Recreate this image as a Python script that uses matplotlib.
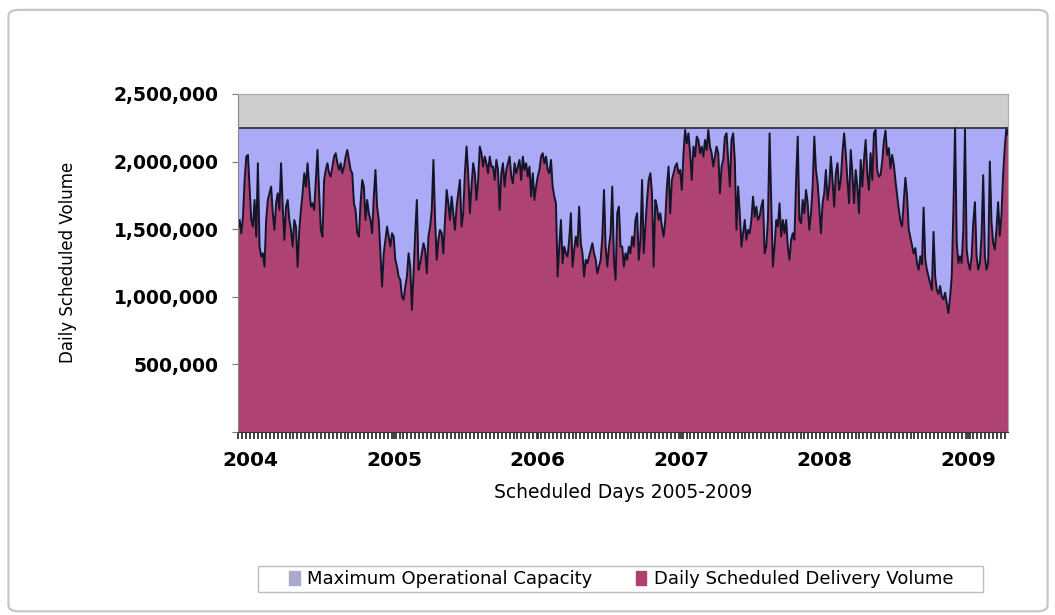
import numpy as np
import pandas as pd
import matplotlib
matplotlib.use("Agg")
import matplotlib.pyplot as plt
import matplotlib.dates as mdates
from matplotlib.patches import Patch, Rectangle, FancyBboxPatch
from matplotlib.ticker import FuncFormatter, MultipleLocator

# daily scheduled delivery volume (thousands)
seg_2004 = [1495, 1568, 1470, 1593, 1864, 2037, 2049, 1815, 1568, 1519,
            1716, 1445, 1988, 1371, 1297, 1322, 1223, 1568, 1716, 1766,
            1815, 1618, 1495, 1692, 1766, 1642, 1988, 1667, 1421, 1667,
            1716, 1568, 1495, 1371, 1568, 1519, 1223, 1495, 1642, 1766,
            1914, 1815, 1988, 1815, 1667, 1692, 1642, 1864, 2086, 1766,
            1495, 1445, 1864, 1938, 1988, 1914, 1889, 1963, 2037, 2062,
            1988, 1938, 1988, 1914, 1963, 2037, 2086, 2012, 1938, 1914,
            1692, 1642, 1470, 1445, 1692, 1864, 1815]
seg_2005 = [1568, 1716, 1618, 1568, 1470, 1741, 1938, 1667, 1568, 1322,
            1076, 1322, 1421, 1519, 1445, 1371, 1470, 1445, 1273, 1223,
            1150, 1125, 1002, 977, 1076, 1150, 1322, 1223, 903, 1174,
            1470, 1716, 1199, 1248, 1322, 1396, 1347, 1174, 1445, 1519,
            1642, 2012, 1568, 1273, 1421, 1495, 1470, 1322, 1568, 1790,
            1692, 1568, 1741, 1618, 1495, 1667, 1766, 1864, 1519, 1618,
            1914, 2111, 1914, 1618, 1815, 1988, 1914, 1716, 1864, 2111,
            2062, 1963, 2037, 1988, 1914, 2037, 1963]
seg_2006 = [1963, 1864, 2012, 1938, 1642, 1914, 1988, 1815, 1938, 1988,
            2037, 1889, 1840, 1988, 1914, 1963, 2012, 1864, 2037, 1938,
            1988, 1889, 1963, 1741, 1914, 1716, 1815, 1889, 1938, 2037,
            2062, 1988, 2037, 1938, 1914, 2012, 1815, 1741, 1692, 1150,
            1371, 1568, 1248, 1371, 1322, 1297, 1421, 1618, 1223, 1347,
            1445, 1371, 1667, 1396, 1322, 1150, 1273, 1248, 1297, 1347,
            1396, 1322, 1273, 1174, 1223, 1273, 1445, 1790, 1371, 1223,
            1371, 1470, 1815, 1273, 1125, 1618, 1667, 1371]
seg_2007 = [1371, 1223, 1322, 1273, 1371, 1322, 1445, 1371, 1568, 1618,
            1273, 1421, 1864, 1322, 1519, 1716, 1864, 1914, 1766, 1223,
            1716, 1667, 1568, 1618, 1519, 1445, 1568, 1815, 1963, 1618,
            1864, 1914, 1963, 1988, 1914, 1938, 1790, 2062, 2234, 2135,
            2209, 2062, 1864, 2111, 2037, 2185, 2160, 2062, 2111, 2037,
            2160, 2086, 2234, 2111, 2062, 1963, 2037, 2111, 2062, 1766,
            1963, 2012, 2185, 2209, 2012, 1815, 2160, 2209, 2012, 1495,
            1815, 1618, 1371, 1470, 1568, 1421, 1495, 1470]
seg_2008 = [1568, 1741, 1593, 1667, 1568, 1593, 1667, 1716, 1322, 1371,
            1568, 2209, 1692, 1223, 1371, 1568, 1519, 1692, 1445, 1568,
            1470, 1568, 1371, 1273, 1421, 1470, 1421, 1864, 2185, 1568,
            1544, 1716, 1618, 1790, 1692, 1495, 1618, 1815, 2185, 1938,
            1840, 1667, 1470, 1692, 1766, 1938, 1716, 1815, 2037, 1864,
            1667, 1914, 1988, 1790, 1864, 2062, 2209, 2062, 1864, 1692,
            2086, 1914, 1692, 1938, 1815, 1618, 2012, 1815, 2012, 2160,
            1914, 1790, 2062, 1864, 2209, 2234, 1938, 1889]
seg_2009 = [1900, 2000, 2150, 2230, 2050, 2100, 1950, 2050, 1980, 1860,
            1750, 1650, 1560, 1520, 1700, 1880, 1750, 1500, 1440, 1380,
            1320, 1360, 1250, 1200, 1300, 1240, 1660, 1280, 1200, 1150,
            1100, 1050, 1480, 1150, 1050, 1020, 1080, 1000, 980, 1030,
            950, 880, 1000, 1150, 1650, 2250, 1400, 1250, 1300, 1250,
            1500, 2240, 1350, 1250, 1200, 1300, 1550, 1700, 1300, 1200,
            1250, 1450, 1900, 1300, 1200, 1250, 2000, 1550, 1400, 1350,
            1500, 1700, 1450, 1600, 1900, 2100, 2250, 2200]

volume = np.array(seg_2004 + seg_2005 + seg_2006 + seg_2007 + seg_2008 + seg_2009) * 1000
capacity = 2250000
start_date = "2003-12-01"
end_date = "2009-04-12"
dates = pd.date_range(start_date, end_date, periods=len(volume))

fig = plt.figure(figsize=(10.55, 6.15), dpi=100)
fig.patches.append(FancyBboxPatch((0.008, 0.006), 0.985, 0.978,
                                  boxstyle="round,pad=0,rounding_size=0.01",
                                  transform=fig.transFigure, fc="white",
                                  ec="#c4c4c4", lw=1.5, zorder=-1))

ax = fig.add_axes([0.2256, 0.2976, 0.7299, 0.5496])
ax.set_facecolor("#cdcdcd")

ax.fill_between(dates, 0, capacity, color="#aaaaf6", lw=0)
ax.fill_between(dates, 0, volume, color="#ae4272", lw=0)
ax.plot(dates, volume, color="#15152a", lw=1.4)
ax.axhline(capacity, color="#2a2a3a", lw=1.2)

ax.set_xlim(dates[0], dates[-1])
ax.set_ylim(0, 2500000)

ax.yaxis.set_major_locator(MultipleLocator(500000))
ax.yaxis.set_major_formatter(FuncFormatter(lambda v, p: "" if v == 0 else f"{int(v):,}"))
ax.tick_params(axis="y", length=4, color="#777777", pad=10, labelsize=13.5)
for lab in ax.get_yticklabels():
    lab.set_fontweight("bold")

ax.xaxis.set_major_locator(mdates.YearLocator())
ax.xaxis.set_major_formatter(mdates.DateFormatter("%Y"))
ax.xaxis.set_minor_locator(mdates.DayLocator(interval=10))
ax.tick_params(axis="x", which="both", length=5, width=1.3, color="#333333")
ax.tick_params(axis="x", which="major", pad=9, labelsize=14.5)
for lab in ax.get_xticklabels():
    lab.set_fontweight("bold")

for side in ["top", "right"]:
    ax.spines[side].set_color("#aaaaaa")
    ax.spines[side].set_linewidth(0.8)
ax.spines["left"].set_color("#888888")
ax.spines["bottom"].set_color("#333333")

ax.set_xlabel("Scheduled Days 2005-2009", fontsize=13.5, labelpad=9)
fig.text(68 / 1055, 0.5728, "Daily Scheduled Volume", rotation=90,
         ha="center", va="center", fontsize=12)

# legend box
fig.patches.append(Rectangle((258 / 1055, 1 - 592 / 615), 725 / 1055, 26 / 615,
                             transform=fig.transFigure, fc="white",
                             ec="#bdbdbd", lw=1.0))
handles = [Patch(color="#a9a9cc", label="Maximum Operational Capacity"),
           Patch(color="#b0406f", label="Daily Scheduled Delivery Volume")]
fig.legend(handles=handles, loc="center", bbox_to_anchor=(621 / 1055, 1 - 579 / 615),
           ncol=2, frameon=False, fontsize=13, handlelength=0.6, handleheight=0.8,
           handletextpad=0.4, columnspacing=2.4)

fig.savefig("out.png", dpi=100)
